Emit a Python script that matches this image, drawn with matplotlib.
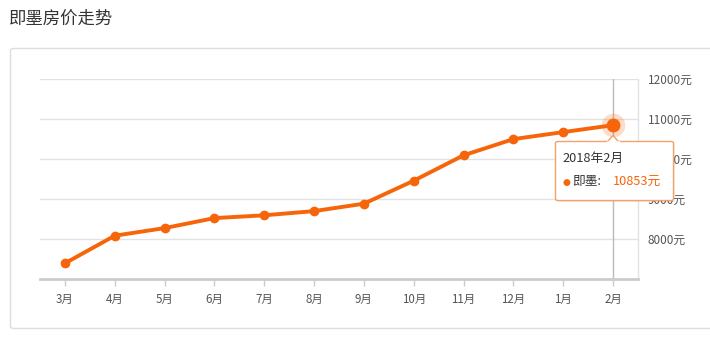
import matplotlib
matplotlib.use("Agg")
import matplotlib.pyplot as plt
from matplotlib.patches import FancyBboxPatch, Polygon
from matplotlib.lines import Line2D

plt.rcParams['font.family'] = ['Noto Sans CJK SC', 'DejaVu Sans']

title = "即墨房价走势"
series_name = "即墨"
months = ["3月", "4月", "5月", "6月", "7月", "8月", "9月", "10月", "11月", "12月", "1月", "2月"]
prices = [7400, 8090, 8280, 8530, 8600, 8705, 8890, 9465, 10100, 10505, 10680, 10853]
y_ticks = [8000, 9000, 10000, 11000, 12000]
y_tick_labels = ["8000元", "9000元", "10000元", "11000元", "12000元"]
tooltip_title = "2018年2月"
unit = "元"

W, H = 710, 338
fig = plt.figure(figsize=(W / 100, H / 100), dpi=100)
fig.patch.set_facecolor("white")

def px(x, y):
    return (x / W, 1 - y / H)

ORANGE = "#f7650a"

# title
fig.text(*px(9, 19), title, fontsize=12.5, color="#333333", va="center", ha="left")

# panel border
panel = FancyBboxPatch(px(10.5, 328.5), 720 / W, (328.5 - 48.5) / H,
                       boxstyle="round,pad=0,rounding_size=0.006",
                       transform=fig.transFigure, facecolor="white",
                       edgecolor="#dddddd", linewidth=1.0, zorder=-5)
fig.patches.append(panel)

# axes
left, right, top, bottom = 40, 638, 79.3, 279.3
ax = fig.add_axes([left / W, 1 - bottom / H, (right - left) / W, (bottom - top) / H])
ax.set_zorder(1)
ax.set_facecolor("none")
x = list(range(len(months)))
ax.set_xlim(-0.5, len(months) - 0.5)
ax.set_ylim(7000, 12000)

for yv in y_ticks:
    ax.axhline(yv, color="#e2e2e2", linewidth=1.0, zorder=1)

for s in ["top", "left"]:
    ax.spines[s].set_visible(False)
ax.spines["right"].set_color("#e2e2e2")
ax.spines["right"].set_linewidth(1.0)
ax.spines["bottom"].set_color("#cccccc")
ax.spines["bottom"].set_linewidth(2.0)

ax.set_xticks(x)
ax.set_xticklabels(months, fontsize=8.3, color="#555555")
ax.tick_params(axis="x", length=5, width=1, color="#cccccc", pad=5)
ax.yaxis.tick_right()
ax.set_yticks(y_ticks)
ax.set_yticklabels(y_tick_labels, fontsize=8.5, color="#555555")
ax.tick_params(axis="y", length=0, pad=7)

# crosshair
ax.axvline(x[-1], color="#bbbbbb", linewidth=1.0, zorder=2)

# line
ax.plot(x, prices, color=ORANGE, linewidth=2.8, marker="o", markersize=6,
        markerfacecolor=ORANGE, markeredgecolor=ORANGE, zorder=3, solid_capstyle="round")
# highlighted point
ax.plot([x[-1]], [prices[-1]], marker="o", markersize=17, color=ORANGE, alpha=0.22,
        markeredgewidth=0, zorder=4)
ax.plot([x[-1]], [prices[-1]], marker="o", markersize=10, color=ORANGE,
        markeredgewidth=0, zorder=5)

# tooltip
tx0, ty0, tx1, ty1 = 555.5, 141.5, 673.5, 200.5
shadow = FancyBboxPatch(px(tx0 + 1.5, ty1 + 1.5), (tx1 - tx0) / W, (ty1 - ty0) / H,
                        boxstyle="round,pad=0,rounding_size=0.004",
                        transform=fig.transFigure, facecolor="#00000012",
                        edgecolor="none", zorder=9)
fig.patches.append(shadow)
tip = FancyBboxPatch(px(tx0, ty1), (tx1 - tx0) / W, (ty1 - ty0) / H,
                     boxstyle="round,pad=0,rounding_size=0.004",
                     transform=fig.transFigure, facecolor="white",
                     edgecolor="#f4a26a", linewidth=1.0, zorder=10)
fig.patches.append(tip)
arrow = Polygon([px(607, ty0 + 0.6), px(613, 135.5), px(619, ty0 + 0.6)], closed=False,
                transform=fig.transFigure, facecolor="white", edgecolor="#f4a26a",
                linewidth=1.0, zorder=11)
fig.patches.append(arrow)
fig.add_artist(Line2D([607.5 / W, 618.5 / W], [px(0, ty0)[1]] * 2, color="white",
                      linewidth=1.2, transform=fig.transFigure, zorder=12))

fig.text(*px(562.5, 158), tooltip_title, fontsize=9.2, color="#333333", va="center", ha="left", zorder=13)
fig.text(*px(562.5, 183), "●", fontsize=6.5, color=ORANGE, va="center", ha="left", zorder=13,
         family="DejaVu Sans")
fig.text(*px(572, 182), series_name + ":", fontsize=9.2, color="#333333", va="center", ha="left", zorder=13)
fig.text(*px(613, 182), f"{prices[-1]}{unit}", fontsize=9.2, color=ORANGE, va="center", ha="left", zorder=13)

fig.savefig("out.png", dpi=100, facecolor="white")
